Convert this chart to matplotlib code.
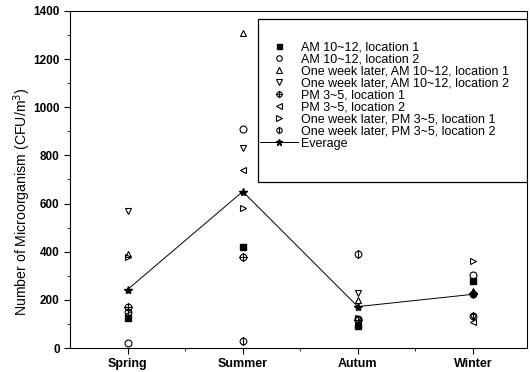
import matplotlib
matplotlib.use('Agg')
import matplotlib.pyplot as plt
from matplotlib.path import Path
from matplotlib.patches import Rectangle
from matplotlib.ticker import MultipleLocator, FixedLocator

plt.rcParams['font.family'] = ['Liberation Sans', 'DejaVu Sans']

seasons = ['Spring', 'Summer', 'Autum', 'Winter']

am_loc1 = [125, 420, 90, 280]
am_loc2 = [20, 910, 120, 305]
wk_am_loc1 = [390, 1310, 200, 235]
wk_am_loc2 = [570, 830, 230, 130]
pm_loc1 = [170, 380, 115, 225]
pm_loc2 = [140, 740, 105, 110]
wk_pm_loc1 = [380, 580, 125, 360]
wk_pm_loc2 = [150, 30, 390, 135]
average = [243, 650, 172, 223]

labels = ['AM 10~12, location 1', 'AM 10~12, location 2',
          'One week later, AM 10~12, location 1',
          'One week later, AM 10~12, location 2',
          'PM 3~5, location 1', 'PM 3~5, location 2',
          'One week later, PM 3~5, location 1',
          'One week later, PM 3~5, location 2']

x = [1, 2, 3, 4]

# circle with a cross / circle with a vertical bar (Origin style symbols)
circ = Path.unit_circle()
vbar = Path([(0, -1.35), (0, 1.35)], [Path.MOVETO, Path.LINETO])
hbar = Path([(-1.35, 0), (1.35, 0)], [Path.MOVETO, Path.LINETO])
circ_plus = Path.make_compound_path(circ, vbar, hbar)
circ_bar = Path.make_compound_path(circ, vbar)

fig = plt.figure(figsize=(5.31, 3.72), dpi=100)
ax = fig.add_axes([0.132, 0.0645, 0.8605, 0.906])

series = [am_loc1, am_loc2, wk_am_loc1, wk_am_loc2, pm_loc1, pm_loc2, wk_pm_loc1, wk_pm_loc2]
markers = ['s', 'o', '^', 'v', circ_plus, '<', '>', circ_bar]
handles = []
for vals, m, lab in zip(series, markers, labels):
    if isinstance(m, str) and m == 's':
        h, = ax.plot(x, vals, ls='none', marker=m, ms=4.5, mfc='black', mec='black', label=lab)
    elif isinstance(m, str):
        h, = ax.plot(x, vals, ls='none', marker=m, ms=5, mfc='none', mec='black', mew=0.8, label=lab)
    else:
        h, = ax.plot(x, vals, ls='none', marker=m, ms=6.5, mfc='none', mec='black', mew=0.8, label=lab)
    handles.append(h)

h, = ax.plot(x, average, color='black', lw=0.7, marker='*', ms=6, label='Everage')
handles.append(h)

ax.set_xlim(0.5, 4.47)
ax.set_ylim(0, 1400)
ax.set_xticks(x)
ax.set_xticklabels(seasons, fontweight='bold', fontsize=9)
ax.xaxis.set_minor_locator(FixedLocator([1.5, 2.5, 3.5]))
ax.yaxis.set_major_locator(MultipleLocator(200))
ax.yaxis.set_minor_locator(MultipleLocator(100))
ax.tick_params(axis='y', labelsize=8.5)
for t in ax.get_yticklabels():
    t.set_fontweight('bold')
ax.tick_params(which='major', direction='out', length=4, width=0.8)
ax.tick_params(which='minor', direction='out', length=2, width=0.6)
ax.set_ylabel('Number of Microorganism (CFU/m$^3$)', fontsize=10.2)
ax.yaxis.set_label_coords(-0.081, 0.435)

# legend box drawn separately so the padding can differ per side
ax.add_patch(Rectangle((0.411, 0.4926), 0.589, 0.4834, transform=ax.transAxes,
                       fill=True, facecolor='white', edgecolor='black', lw=0.9, zorder=4))
leg = ax.legend(handles=handles, loc='center left', bbox_to_anchor=(0.416, 0.749),
                borderaxespad=0, fontsize=9, frameon=False,
                labelspacing=0.0, handlelength=3.0, handletextpad=0.3,
                borderpad=0, markerscale=0.8)
leg.set_zorder(5)

fig.savefig('out.png', dpi=100)
